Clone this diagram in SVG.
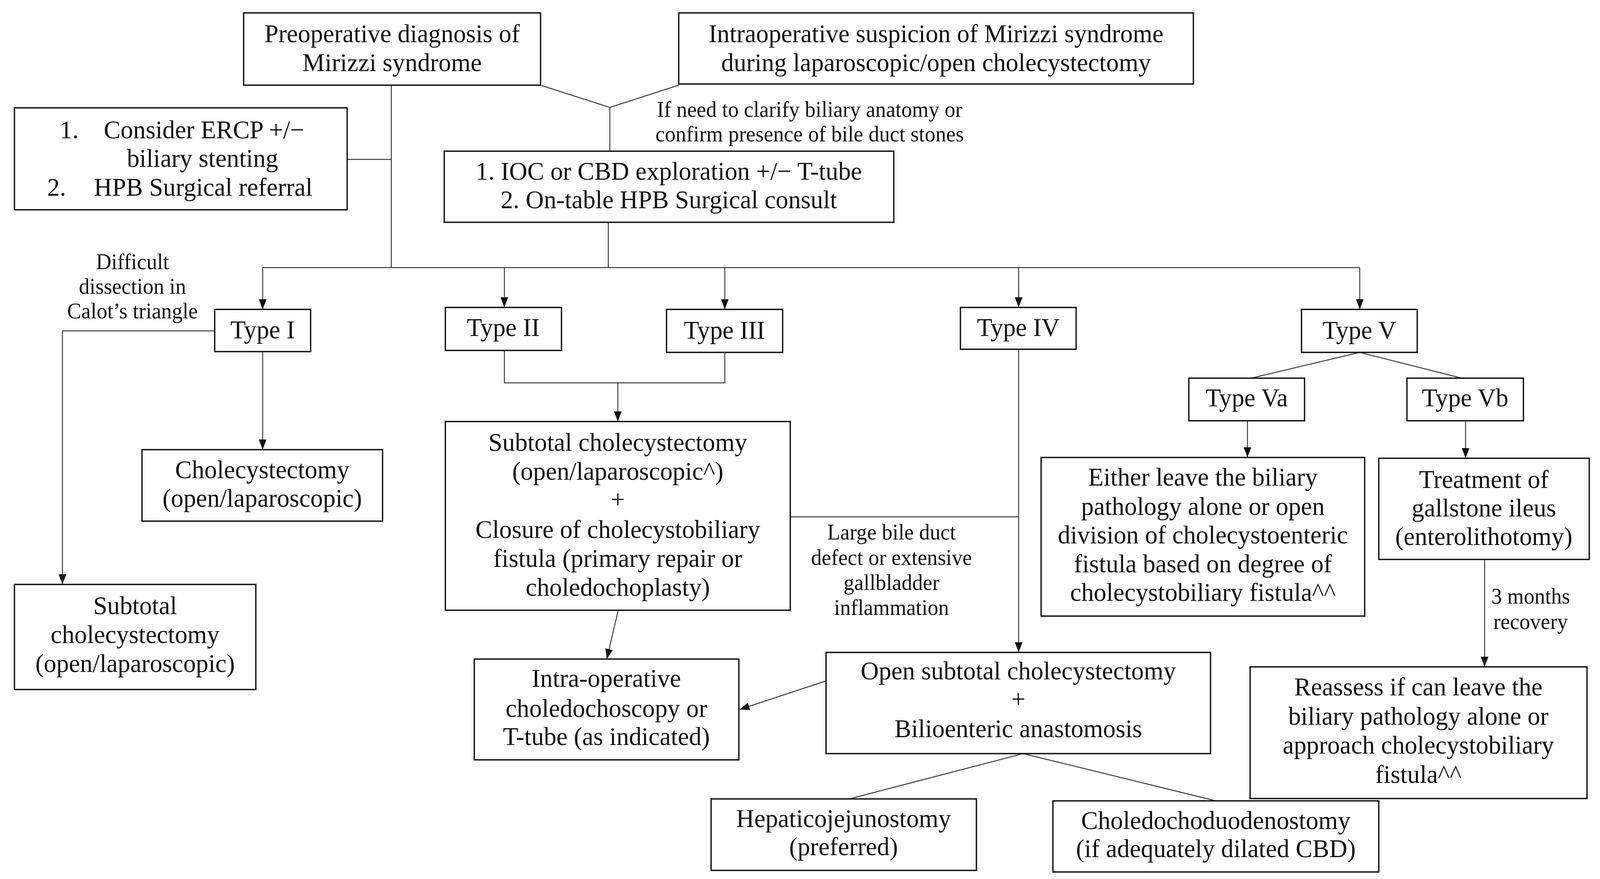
<svg xmlns="http://www.w3.org/2000/svg" width="4203" height="2250" viewBox="0 0 4203 2250">
<style>
.box{fill:#fff;stroke:#111;stroke-width:3.5}
.t{font-family:"Liberation Serif","DejaVu Serif",serif;font-size:66px;fill:#111;text-anchor:middle}
.s{font-family:"Liberation Serif","DejaVu Serif",serif;font-size:56px;fill:#111;text-anchor:middle}
.c{fill:none;stroke:#3a3a3a;stroke-width:2.5}
.a{marker-end:url(#arr)}
</style>
<defs>
<marker id="arr" viewBox="0 0 26 20" refX="26" refY="10" markerWidth="26" markerHeight="20" markerUnits="userSpaceOnUse" orient="auto">
<path d="M0,0 L26,10 L0,20 z" fill="#111"/>
</marker>
</defs>
<rect width="4203" height="2250" fill="#fff"/>
<g id="diagram" transform="matrix(0.9745 0 0 1 0 0)">
<g id="connectors">
<polyline class="c" points="1423,219 1602,275 1783,218"/>
<line class="c" x1="1602" y1="275" x2="1602" y2="387"/>
<line class="c" x1="1028" y1="218" x2="1028" y2="685"/>
<line class="c" x1="912" y1="408" x2="1028" y2="408"/>
<line class="c" x1="1598" y1="569" x2="1598" y2="685"/>
<line class="c" x1="690" y1="685" x2="3572" y2="685"/>
<line class="c a" x1="690" y1="685" x2="690" y2="792"/>
<line class="c a" x1="1325" y1="685" x2="1325" y2="787"/>
<line class="c a" x1="1904" y1="685" x2="1904" y2="792"/>
<line class="c a" x1="2676" y1="685" x2="2676" y2="787"/>
<line class="c a" x1="3572" y1="685" x2="3572" y2="792"/>
<polyline class="c a" points="564,847 164,847 164,1496"/>
<line class="c a" x1="690" y1="900" x2="690" y2="1151"/>
<polyline class="c" points="1325,897 1325,980 1904,980 1904,902"/>
<line class="c a" x1="1623" y1="980" x2="1623" y2="1079"/>
<line class="c a" x1="1624" y1="1562" x2="1594" y2="1687"/>
<line class="c" x1="2076" y1="1323" x2="2676" y2="1323"/>
<line class="c a" x1="2676" y1="894" x2="2676" y2="1670"/>
<line class="c a" x1="2170" y1="1743" x2="1943" y2="1816"/>
<polyline class="c" points="2231,2045 2688,1929 3194,2050"/>
<polyline class="c" points="3287,968 3572,902 3840,968"/>
<line class="c a" x1="3277" y1="1077" x2="3277" y2="1171"/>
<line class="c a" x1="3850" y1="1077" x2="3850" y2="1173"/>
<line class="c a" x1="3900" y1="1432" x2="3900" y2="1707"/>
<text class="s" x="2127" y="299">If need to clarify biliary anatomy or</text>
<text class="s" x="2127" y="362">confirm presence of bile duct stones</text>
<text class="s" x="348" y="689">Difficult</text>
<text class="s" x="348" y="752">dissection in</text>
<text class="s" x="348" y="815">Calot’s triangle</text>
<text class="s" x="2342" y="1381">Large bile duct</text>
<text class="s" x="2342" y="1446">defect or extensive</text>
<text class="s" x="2342" y="1510">gallbladder</text>
<text class="s" x="2342" y="1574">inflammation</text>
<text class="s" x="4021" y="1545">3 months</text>
<text class="s" x="4021" y="1610">recovery</text>
</g>

<g id="preop">
<rect class="box" x="640" y="33" width="780" height="185"/>
<text class="t" x="1030" y="108">Preoperative diagnosis of</text>
<text class="t" x="1030" y="182">Mirizzi syndrome</text>
</g>
<g id="intraop">
<rect class="box" x="1783" y="33" width="1352" height="182"/>
<text class="t" x="2459" y="108">Intraoperative suspicion of Mirizzi syndrome</text>
<text class="t" x="2459" y="182">during laparoscopic/open cholecystectomy</text>
</g>
<g id="ercp">
<rect class="box" x="38" y="276" width="874" height="261"/>
<text class="t" x="157" y="354" style="text-anchor:start">1.</text>
<text class="t" x="536" y="354">Consider ERCP +/−</text>
<text class="t" x="532" y="427">biliary stenting</text>
<text class="t" x="124" y="501" style="text-anchor:start">2.</text>
<text class="t" x="534" y="501">HPB Surgical referral</text>
</g>
<g id="ioc">
<rect class="box" x="1167" y="387" width="1181" height="182"/>
<text class="t" x="1757" y="460">1. IOC or CBD exploration +/− T-tube</text>
<text class="t" x="1757" y="533">2. On-table HPB Surgical consult</text>
</g>
<g id="type1">
<rect class="box" x="564" y="792" width="252" height="108"/>
<text class="t" x="690" y="866">Type I</text>
</g>
<g id="type2">
<rect class="box" x="1170" y="787" width="305" height="110"/>
<text class="t" x="1322" y="860">Type II</text>
</g>
<g id="type3">
<rect class="box" x="1751" y="792" width="305" height="110"/>
<text class="t" x="1903" y="867">Type III</text>
</g>
<g id="type4">
<rect class="box" x="2523" y="787" width="304" height="107"/>
<text class="t" x="2675" y="860">Type IV</text>
</g>
<g id="type5">
<rect class="box" x="3419" y="792" width="304" height="110"/>
<text class="t" x="3571" y="867">Type V</text>
</g>
<g id="type5a">
<rect class="box" x="3123" y="968" width="304" height="109"/>
<text class="t" x="3275" y="1040">Type Va</text>
</g>
<g id="type5b">
<rect class="box" x="3696" y="968" width="306" height="109"/>
<text class="t" x="3849" y="1040">Type Vb</text>
</g>
<g id="chole">
<rect class="box" x="373" y="1151" width="632" height="183"/>
<text class="t" x="689" y="1224">Cholecystectomy</text>
<text class="t" x="689" y="1297">(open/laparoscopic)</text>
</g>
<g id="subtotal-left">
<rect class="box" x="38" y="1496" width="634" height="269"/>
<text class="t" x="355" y="1572">Subtotal</text>
<text class="t" x="355" y="1646">cholecystectomy</text>
<text class="t" x="355" y="1720">(open/laparoscopic)</text>
</g>
<g id="subtotal-closure">
<rect class="box" x="1170" y="1079" width="906" height="483"/>
<text class="t" x="1623" y="1154">Subtotal cholecystectomy</text>
<text class="t" x="1623" y="1228">(open/laparoscopic^)</text>
<text class="t" x="1623" y="1300">+</text>
<text class="t" x="1623" y="1377">Closure of cholecystobiliary</text>
<text class="t" x="1623" y="1451">fistula (primary repair or</text>
<text class="t" x="1623" y="1525">choledochoplasty)</text>
</g>
<g id="intraop-choledochoscopy">
<rect class="box" x="1246" y="1687" width="695" height="258"/>
<text class="t" x="1593" y="1758">Intra-operative</text>
<text class="t" x="1593" y="1835">choledochoscopy or</text>
<text class="t" x="1593" y="1907">T-tube (as indicated)</text>
</g>
<g id="open-subtotal">
<rect class="box" x="2170" y="1670" width="1010" height="259"/>
<text class="t" x="2675" y="1739">Open subtotal cholecystectomy</text>
<text class="t" x="2675" y="1811">+</text>
<text class="t" x="2675" y="1887">Bilioenteric anastomosis</text>
</g>
<g id="hepatico">
<rect class="box" x="1868" y="2045" width="697" height="183"/>
<text class="t" x="2216" y="2117">Hepaticojejunostomy</text>
<text class="t" x="2216" y="2189">(preferred)</text>
</g>
<g id="choledocho">
<rect class="box" x="2766" y="2050" width="856" height="182"/>
<text class="t" x="3194" y="2122">Choledochoduodenostomy</text>
<text class="t" x="3194" y="2194">(if adequately dilated CBD)</text>
</g>
<g id="either">
<rect class="box" x="2735" y="1171" width="850" height="406"/>
<text class="t" x="3160" y="1243">Either leave the biliary</text>
<text class="t" x="3160" y="1318">pathology alone or open</text>
<text class="t" x="3160" y="1391">division of cholecystoenteric</text>
<text class="t" x="3160" y="1465">fistula based on degree of</text>
<text class="t" x="3160" y="1538">cholecystobiliary fistula^^</text>
</g>
<g id="treatment">
<rect class="box" x="3622" y="1173" width="553" height="259"/>
<text class="t" x="3898" y="1249">Treatment of</text>
<text class="t" x="3898" y="1322">gallstone ileus</text>
<text class="t" x="3898" y="1395">(enterolithotomy)</text>
</g>
<g id="reassess">
<rect class="box" x="3284" y="1707" width="885" height="337"/>
<text class="t" x="3726" y="1780">Reassess if can leave the</text>
<text class="t" x="3726" y="1855">biliary pathology alone or</text>
<text class="t" x="3726" y="1929">approach cholecystobiliary</text>
<text class="t" x="3726" y="2004">fistula^^</text>
</g>
</g>
</svg>
